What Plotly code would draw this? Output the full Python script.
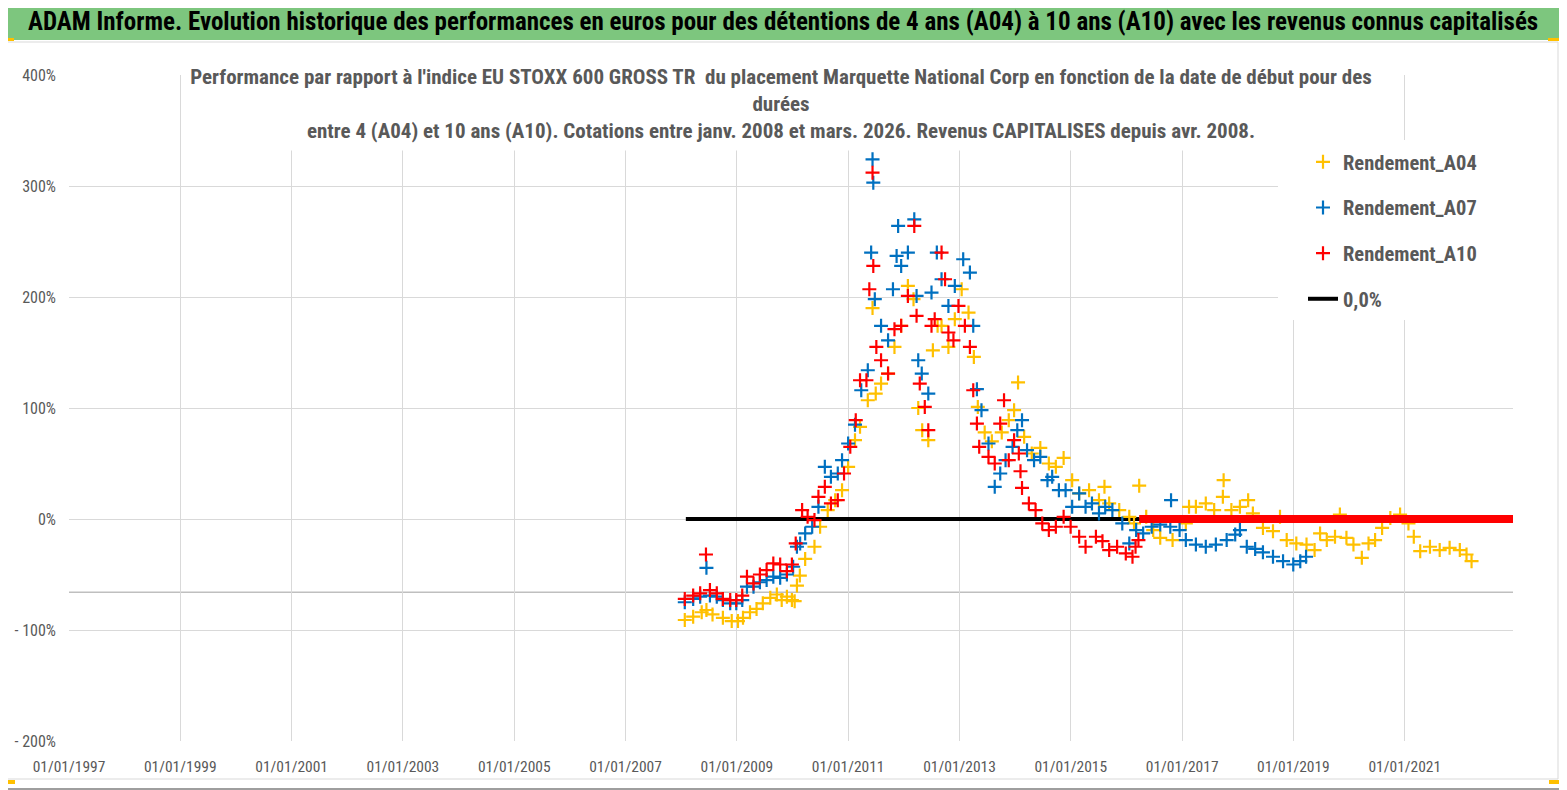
import plotly.graph_objects as go

# Rendement_A04 : detention 4 ans (date de debut -> perf en %)
a04_dates = [
    "2008-01-25", "2008-03-20", "2008-05-15", "2008-06-15", "2008-07-25", "2008-10-01",
    "2008-11-28", "2009-01-08", "2009-02-10", "2009-03-28", "2009-05-10", "2009-06-20",
    "2009-08-08", "2009-09-20", "2009-10-22", "2009-11-25", "2009-12-28", "2010-01-15",
    "2010-01-30", "2010-02-18", "2010-03-25", "2010-05-25", "2010-07-01", "2010-08-20",
    "2010-10-08", "2010-11-22", "2011-01-01", "2011-02-15", "2011-03-20", "2011-05-10",
    "2011-06-10", "2011-07-01", "2011-08-05", "2011-09-20", "2011-11-01", "2011-12-15",
    "2012-01-28", "2012-03-05", "2012-04-05", "2012-05-01", "2012-06-10", "2012-07-10",
    "2012-08-10", "2012-09-05", "2012-10-20", "2012-12-01", "2013-01-15", "2013-03-01",
    "2013-04-05", "2013-05-01", "2013-06-15", "2013-08-01", "2013-10-05", "2013-11-20",
    "2013-12-25", "2014-01-20", "2014-03-01", "2014-04-20", "2014-06-15", "2014-08-10",
    "2014-09-25", "2014-11-15", "2015-01-10", "2015-02-25", "2015-05-01", "2015-07-05",
    "2015-08-10", "2015-09-10", "2015-11-15", "2016-01-20", "2016-02-20", "2016-03-25",
    "2016-05-10", "2016-06-25", "2016-08-10", "2016-10-30", "2017-01-25", "2017-02-15",
    "2017-04-01", "2017-06-05", "2017-07-30", "2017-09-25", "2017-09-30", "2017-11-20",
    "2018-01-15", "2018-03-10", "2018-04-10", "2018-06-15", "2018-08-20", "2018-10-05",
    "2018-11-18", "2019-01-20", "2019-03-28", "2019-05-20", "2019-06-25", "2019-08-08",
    "2019-10-01", "2019-11-02", "2019-12-15", "2020-01-30", "2020-03-25", "2020-05-08",
    "2020-06-20", "2020-08-05", "2020-09-28", "2020-12-01", "2021-01-25", "2021-03-01",
    "2021-04-12", "2021-06-15", "2021-08-18", "2021-10-22", "2021-12-28", "2022-02-10",
    "2022-03-15",
]
a04_values = [
    -91, -88, -84, -82, -86, -89,
    -92, -92, -89, -84, -81, -76,
    -71, -68, -73, -70, -73, -74,
    -60, -51, -36, -25, -7, 8,
    17, 26, 47, 71, 83, 107,
    190, 113, 122, 131, 155, 174,
    210, 198, 100, 80, 71, 152,
    174, 174, 155, 180, 207, 186,
    146, 101, 78, 70, 78, 89,
    98, 123, 74, 59, 64, 50,
    47, 55, 35, 23, 26, 17,
    29, 14, 8, 2, -4, 30,
    2, -10, -17, -19, -4, 11,
    11, 14, 8, 20, 35, 8,
    11, 17, 5, -8, -11, 2,
    -19, -22, -23, -28, -13, -19,
    -16, 4, -17, -23, -35, -22,
    -19, -8, 1, 4, -4, -16,
    -29, -25, -28, -26, -28, -32,
    -38,
]

# Rendement_A07 : detention 7 ans
a07_dates = [
    "2008-01-25", "2008-03-20", "2008-05-05", "2008-06-15", "2008-07-08", "2008-08-22",
    "2008-10-01", "2008-11-18", "2008-12-28", "2009-02-05", "2009-03-08", "2009-04-20",
    "2009-06-01", "2009-07-15", "2009-08-28", "2009-10-12", "2009-11-25", "2010-01-05",
    "2010-01-30", "2010-02-20", "2010-03-25", "2010-05-10", "2010-06-20", "2010-08-01",
    "2010-09-10", "2010-10-25", "2010-11-22", "2011-01-01", "2011-02-15", "2011-03-28",
    "2011-05-10", "2011-06-01", "2011-06-10", "2011-06-15", "2011-06-25", "2011-08-05",
    "2011-09-20", "2011-10-22", "2011-11-15", "2011-11-25", "2011-12-15", "2012-01-28",
    "2012-03-10", "2012-03-25", "2012-04-05", "2012-04-28", "2012-06-10", "2012-07-01",
    "2012-08-05", "2012-09-05", "2012-10-20", "2012-12-01", "2013-01-25", "2013-03-10",
    "2013-04-01", "2013-04-25", "2013-05-25", "2013-07-10", "2013-08-20", "2013-09-25",
    "2013-10-30", "2013-12-15", "2014-01-15", "2014-02-15", "2014-03-20", "2014-05-05",
    "2014-06-15", "2014-08-01", "2014-09-01", "2014-10-15", "2014-11-28", "2015-01-10",
    "2015-02-25", "2015-04-08", "2015-05-20", "2015-07-05", "2015-08-15", "2015-10-01",
    "2015-12-05", "2016-01-20", "2016-03-05", "2016-04-20", "2016-06-15", "2016-08-10",
    "2016-10-15", "2016-10-20", "2016-12-15", "2017-01-25", "2017-04-01", "2017-06-05",
    "2017-08-10", "2017-10-20", "2017-12-15", "2018-01-15", "2018-03-01", "2018-04-25",
    "2018-06-15", "2018-08-20", "2018-10-25", "2018-12-31", "2019-02-15", "2019-03-25",
]
a07_values = [
    -75, -72, -70, -44, -69, -70,
    -73, -76, -76, -73, -61, -61,
    -57, -55, -52, -53, -50, -43,
    -25, -22, -13, -7, 11, 47,
    38, 41, 53, 68, 85, 116,
    134, 240, 324, 303, 198, 174,
    161, 207, 237, 264, 228, 240,
    270, 201, 143, 131, 113, 204,
    240, 216, 192, 210, 234, 222,
    174, 117, 98, 68, 29, 41,
    53, 65, 80, 89, 62, 53,
    56, 35, 38, 26, 26, 11,
    23, 11, 14, 5, 11, 8,
    -4, -22, -10, -13, -7, -5,
    -7, 17, -10, -19, -23, -25,
    -23, -19, -14, -10, -25, -27,
    -30, -34, -38, -41, -38, -34,
]

# Rendement_A10 : detention 10 ans
a10_dates = [
    "2008-01-25", "2008-03-20", "2008-05-05", "2008-06-12", "2008-07-08", "2008-08-22",
    "2008-10-01", "2008-11-18", "2008-12-28", "2009-02-05", "2009-03-08", "2009-04-20",
    "2009-06-01", "2009-07-15", "2009-08-28", "2009-10-12", "2009-11-25", "2009-12-28",
    "2010-01-22", "2010-03-05", "2010-04-10", "2010-05-25", "2010-06-20", "2010-08-01",
    "2010-09-10", "2010-10-25", "2010-12-05", "2011-01-15", "2011-02-20", "2011-03-20",
    "2011-05-01", "2011-05-20", "2011-06-10", "2011-06-15", "2011-07-05", "2011-08-05",
    "2011-09-20", "2011-11-01", "2011-12-15", "2012-01-28", "2012-03-10", "2012-03-25",
    "2012-04-15", "2012-05-18", "2012-06-10", "2012-07-01", "2012-07-22", "2012-09-05",
    "2012-09-28", "2012-10-20", "2012-11-22", "2012-12-25", "2013-02-05", "2013-03-10",
    "2013-04-01", "2013-04-25", "2013-05-10", "2013-07-10", "2013-08-20", "2013-09-25",
    "2013-10-20", "2013-11-20", "2013-12-25", "2014-01-25", "2014-02-05", "2014-02-15",
    "2014-04-01", "2014-05-15", "2014-06-28", "2014-08-10", "2014-09-25", "2014-11-15",
    "2014-12-31", "2015-02-25", "2015-04-08", "2015-06-15", "2015-07-28", "2015-09-10",
    "2015-11-01", "2015-12-28", "2016-02-10", "2016-03-01", "2016-03-20",
]
a10_values = [
    -72, -69, -67, -32, -64, -67,
    -72, -73, -73, -69, -52, -58,
    -50, -46, -40, -41, -47, -41,
    -22, 8, 2, -1, 20, 29,
    14, 17, 41, 65, 89, 125,
    125, 207, 312, 228, 155, 143,
    131, 171, 174, 201, 264, 183,
    122, 101, 80, 174, 180, 240,
    216, 168, 161, 192, 174, 155,
    116, 86, 65, 56, 50, 86,
    107, 53, 71, 59, 43, 28,
    14, 8, -4, -10, -7, 2,
    -7, -16, -25, -16, -20, -28,
    -25, -31, -34, -25, -19,
]

# apres la fin des donnees A10 la serie vaut 0 jusqu'a la fin de l'axe
a10_tail_dates = ["2016-03-25", "2022-12-12"]
a10_tail_values = [0, 0]

# ligne de reference 0,0%
zero_dates = ["2008-02-01", "2022-12-12"]
zero_values = [0, 0]

y_ticks = [-200, -100, 0, 100, 200, 300, 400]
y_tick_labels = ["- 200%", "- 100%", "0%", "100%", "200%", "300%", "400%"]
axis_cross = -66

FONT = "Roboto Condensed, Roboto, sans-serif"
GREY = "#595959"
YELLOW = "#FFC000"
BLUE = "#0070C0"
RED = "#FF0000"

# la page html ajoute 8px de marge : la figure est reduite d'autant
OFF = 8


def px_x(p):
    return (p - 69) / 1444


def px_y(p):
    return (741 - p) / 666


def plus_marker(color):
    return dict(symbol="cross-thin", size=10, color=color, line=dict(color=color, width=2.2))


fig = go.Figure()

fig.add_trace(go.Scatter(x=zero_dates, y=zero_values, mode="lines", name="<b>0,0%</b>",
                         line=dict(color="black", width=4), legendrank=4,
                         legendgroup="z"))
fig.add_trace(go.Scatter(x=a04_dates, y=a04_values, mode="markers",
                         name="<b>Rendement_A04</b>",
                         marker=plus_marker(YELLOW), legendrank=1, legendgroup="a"))
fig.add_trace(go.Scatter(x=a07_dates, y=a07_values, mode="markers",
                         name="<b>Rendement_A07</b>",
                         marker=plus_marker(BLUE), legendrank=2, legendgroup="b"))
fig.add_trace(go.Scatter(x=a10_dates, y=a10_values, mode="markers",
                         name="<b>Rendement_A10</b>",
                         marker=plus_marker(RED), legendrank=3, legendgroup="c"))
fig.add_trace(go.Scatter(x=a10_tail_dates, y=a10_tail_values, mode="lines",
                         line=dict(color=RED, width=8), showlegend=False,
                         legendgroup="c"))

title = ("ADAM Informe. Evolution historique des performances en euros pour des détentions "
         "de 4 ans (A04) à 10 ans (A10) avec les revenus connus capitalisés")
subtitle = ("Performance par rapport à l'indice EU STOXX 600 GROSS TR  du placement Marquette "
            "National Corp en fonction de la date de début pour des<br>durées<br>"
            "entre 4 (A04) et 10 ans (A10). Cotations entre janv. 2008 et mars. 2026. "
            "Revenus CAPITALISES depuis avr. 2008.")


def paper_rect(x0, x1, y0, y1, **kw):
    return dict(type="rect", xref="paper", yref="paper", x0=px_x(x0), x1=px_x(x1),
                y0=px_y(y0), y1=px_y(y1), **kw)


shapes = [
    paper_rect(1, 1566, 1, 789, line=dict(color="#7f7f7f", width=1.5)),
    paper_rect(3, 1563, 3, 40, fillcolor="#7dc67e", line=dict(width=0)),
    paper_rect(1, 1558, 42, 779, line=dict(color="#d9d9d9", width=1)),
    # fond blanc de la legende (cache la grille)
    paper_rect(1278, 1513, 140, 320, fillcolor="white", line=dict(width=0), layer="above"),
    # axe horizontal
    dict(type="line", xref="paper", yref="y", x0=0, x1=1, y0=axis_cross, y1=axis_cross,
         line=dict(color="#bfbfbf", width=1.5), layer="below"),
    # poignees jaunes
    paper_rect(1, 14, 38, 41, fillcolor=YELLOW, line=dict(width=0)),
    paper_rect(1548, 1564, 38, 41, fillcolor=YELLOW, line=dict(width=0)),
    paper_rect(1561, 1564, 38, 52, fillcolor=YELLOW, line=dict(width=0)),
    paper_rect(1559, 1564, 740, 784, fillcolor=YELLOW, line=dict(width=0)),
    paper_rect(1549, 1564, 780, 784, fillcolor=YELLOW, line=dict(width=0)),
    paper_rect(1, 15, 780, 784, fillcolor=YELLOW, line=dict(width=0)),
]

annotations = [
    dict(text="<b>" + title + "</b>", xref="paper", yref="paper", x=px_x(783),
         y=px_y(21.5), showarrow=False, font=dict(family=FONT, size=25, color="black"),
         xanchor="center", yanchor="middle"),
    dict(text="<b>" + subtitle + "</b>", xref="paper", yref="paper", x=px_x(781),
         y=px_y(104), showarrow=False, font=dict(family=FONT, size=21, color=GREY),
         xanchor="center", yanchor="middle", align="center", bgcolor="white",
         width=1196, height=90),
]

fig.update_layout(
    width=1567 - OFF,
    height=790 - OFF,
    margin=dict(l=69 - OFF, r=54, t=75 - OFF, b=49),
    paper_bgcolor="white",
    plot_bgcolor="white",
    font=dict(family=FONT, color=GREY),
    shapes=shapes,
    annotations=annotations,
    legend=dict(
        x=px_x(1303), y=px_y(142), xanchor="left", yanchor="top",
        bgcolor="white", font=dict(family=FONT, size=20.5, color=GREY),
        tracegroupgap=16, itemwidth=30,
    ),
    xaxis=dict(
        type="date",
        range=["1997-01-01", "2022-12-12"],
        tick0="1997-01-01",
        dtick="M24",
        tickformat="%d/%m/%Y",
        showgrid=True,
        gridcolor="#d9d9d9",
        zeroline=False,
        showline=False,
        automargin=False,
        tickfont=dict(family=FONT, size=15.5, color=GREY),
        ticklabelstandoff=14,
    ),
    yaxis=dict(
        range=[-200, 400],
        tickvals=y_ticks,
        ticktext=y_tick_labels,
        showgrid=True,
        gridcolor="#d9d9d9",
        zeroline=False,
        showline=False,
        automargin=False,
        tickfont=dict(family=FONT, size=16, color=GREY),
        ticklabelstandoff=12,
    ),
)

fig.write_html("out.html")
